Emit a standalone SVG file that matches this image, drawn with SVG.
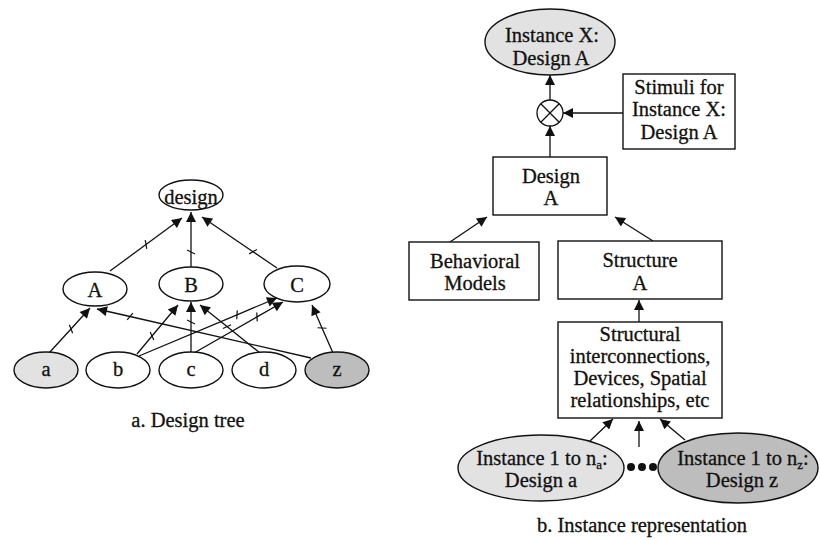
<svg xmlns="http://www.w3.org/2000/svg" width="820" height="540" viewBox="0 0 820 540">
  <style>
    text { font-family: 'Liberation Serif', 'DejaVu Serif', serif; font-size: 20.5px; fill: #111; stroke: #111; stroke-width: 0.3; text-anchor: middle; }
    .node { fill: #fff; stroke: #111; stroke-width: 1.4; }
    .light { fill: #e2e2e2; stroke: #111; stroke-width: 1.4; }
    .dark { fill: #bdbdbd; stroke: #111; stroke-width: 1.4; }
    .edge { fill: none; stroke: #111; stroke-width: 1.3; marker-end: url(#arrow); }
    .tick { marker-mid: url(#tick); }
    .sub { font-size: 13px; }
  </style>
  <defs>
    <marker id="arrow" viewBox="0 0 10 10" refX="10" refY="5" markerWidth="12" markerHeight="10" markerUnits="userSpaceOnUse" orient="auto">
      <path d="M0,0 L10,5 L0,10 z" fill="#111"/>
    </marker>
    <marker id="tick" viewBox="-5 -5 10 10" refX="0" refY="0" markerWidth="10" markerHeight="10" markerUnits="userSpaceOnUse" orient="auto">
      <line x1="-2" y1="4" x2="2" y2="-4" stroke="#111" stroke-width="1.2"/>
    </marker>
  </defs>
  <rect width="820" height="540" fill="#fff"/>

  <!-- a. Design tree -->
  <g id="connectors-tree">
    <path class="edge tick" d="M110,271 L146,244.5 L182,218"/>
    <path class="edge tick" d="M191,267 L191,252 L191,212"/>
    <path class="edge tick" d="M277,268 L253,251.7 L202,217"/>
    <path class="edge tick" d="M49,353 L71,329 L90,308"/>
    <path class="edge tick" d="M311,358 L130,316.5 L97,309"/>
    <path class="edge tick" d="M137,354 L152,336 L178,305"/>
    <path class="edge tick" d="M139,356 L237,314.8 L277,298"/>
    <path class="edge tick" d="M191,352 L191,322 L191,302"/>
    <path class="edge tick" d="M194,353 L257,316.9 L283,302"/>
    <path class="edge tick" d="M260,353 L227,326.6 L200,305"/>
    <path class="edge tick" d="M333,353 L322,328 L312,305"/>
  </g>

  <g id="design">
    <ellipse class="node" cx="191" cy="195" rx="32" ry="15"/>
    <text x="191" y="204">design</text>
  </g>
  <g id="A">
    <ellipse class="node" cx="95" cy="289" rx="32" ry="17"/>
    <text x="95" y="297">A</text>
  </g>
  <g id="B">
    <ellipse class="node" cx="191" cy="284" rx="32" ry="17"/>
    <text x="191" y="292">B</text>
  </g>
  <g id="C">
    <ellipse class="node" cx="297" cy="284" rx="33" ry="18"/>
    <text x="297" y="292">C</text>
  </g>
  <g id="a">
    <ellipse class="light" cx="46" cy="370" rx="32" ry="18"/>
    <text x="46" y="376">a</text>
  </g>
  <g id="b">
    <ellipse class="node" cx="118" cy="370" rx="32" ry="18"/>
    <text x="118" y="376">b</text>
  </g>
  <g id="c">
    <ellipse class="node" cx="191" cy="370" rx="32" ry="18"/>
    <text x="191" y="376">c</text>
  </g>
  <g id="d">
    <ellipse class="node" cx="264" cy="370" rx="32" ry="18"/>
    <text x="264" y="376">d</text>
  </g>
  <g id="z">
    <ellipse class="dark" cx="337" cy="370" rx="32" ry="18"/>
    <text x="337" y="376">z</text>
  </g>
  <text x="188" y="427">a. Design tree</text>

  <!-- b. Instance representation -->
  <g id="connectors-instance">
    <path class="edge" d="M550,100 L550,75"/>
    <path class="edge" d="M623,113 L563,113"/>
    <path class="edge" d="M550,157 L550,126"/>
    <path class="edge" d="M450,242 L487,217"/>
    <path class="edge" d="M653,241 L615,217"/>
    <path class="edge" d="M639,322 L639,300"/>
    <path class="edge" d="M590,441 L613,419"/>
    <path class="edge" d="M639,447 L639,421"/>
    <path class="edge" d="M685,440 L660,419"/>
  </g>

  <g id="instance-x">
    <ellipse class="light" cx="550" cy="42" rx="65" ry="33"/>
    <text x="552" y="42">Instance X:</text>
    <text x="551" y="65">Design A</text>
  </g>
  <g id="combine">
    <circle cx="550" cy="113" r="13" fill="#fff" stroke="#111" stroke-width="1.3"/>
    <path d="M540.8,103.8 L559.2,122.2 M559.2,103.8 L540.8,122.2" stroke="#111" stroke-width="1.3"/>
  </g>
  <g id="stimuli">
    <rect class="node" x="623" y="74" width="112" height="75"/>
    <text x="679" y="94">Stimuli for</text>
    <text x="679" y="116">Instance X:</text>
    <text x="679" y="139">Design A</text>
  </g>
  <g id="design-a">
    <rect class="node" x="493" y="157" width="114" height="58"/>
    <text x="551" y="183">Design</text>
    <text x="551" y="205">A</text>
  </g>
  <g id="behavioral">
    <rect class="node" x="409" y="242" width="130" height="58"/>
    <text x="475" y="268">Behavioral</text>
    <text x="475" y="290">Models</text>
  </g>
  <g id="structure-a">
    <rect class="node" x="558" y="241" width="164" height="58"/>
    <text x="640" y="267">Structure</text>
    <text x="640" y="290">A</text>
  </g>
  <g id="structural">
    <rect class="node" x="558" y="322" width="164" height="96"/>
    <text x="640" y="341">Structural</text>
    <text x="640" y="363">interconnections,</text>
    <text x="640" y="385">Devices, Spatial</text>
    <text x="640" y="407">relationships, etc</text>
  </g>
  <g id="instances-a">
    <ellipse class="light" cx="541" cy="468" rx="83" ry="33"/>
    <text x="542" y="465">Instance 1 to n<tspan class="sub" dy="4">a</tspan><tspan dy="-4">:</tspan></text>
    <text x="541" y="487">Design a</text>
  </g>
  <g id="ellipsis">
    <circle cx="631" cy="467" r="4" fill="#111"/>
    <circle cx="642" cy="467" r="4" fill="#111"/>
    <circle cx="653" cy="467" r="4" fill="#111"/>
  </g>
  <g id="instances-z">
    <ellipse class="dark" cx="738" cy="468" rx="80" ry="35"/>
    <text x="743" y="465">Instance 1 to n<tspan class="sub" dy="4">z</tspan><tspan dy="-4">:</tspan></text>
    <text x="742" y="487">Design z</text>
  </g>
  <text x="642" y="532">b. Instance representation</text>
</svg>
